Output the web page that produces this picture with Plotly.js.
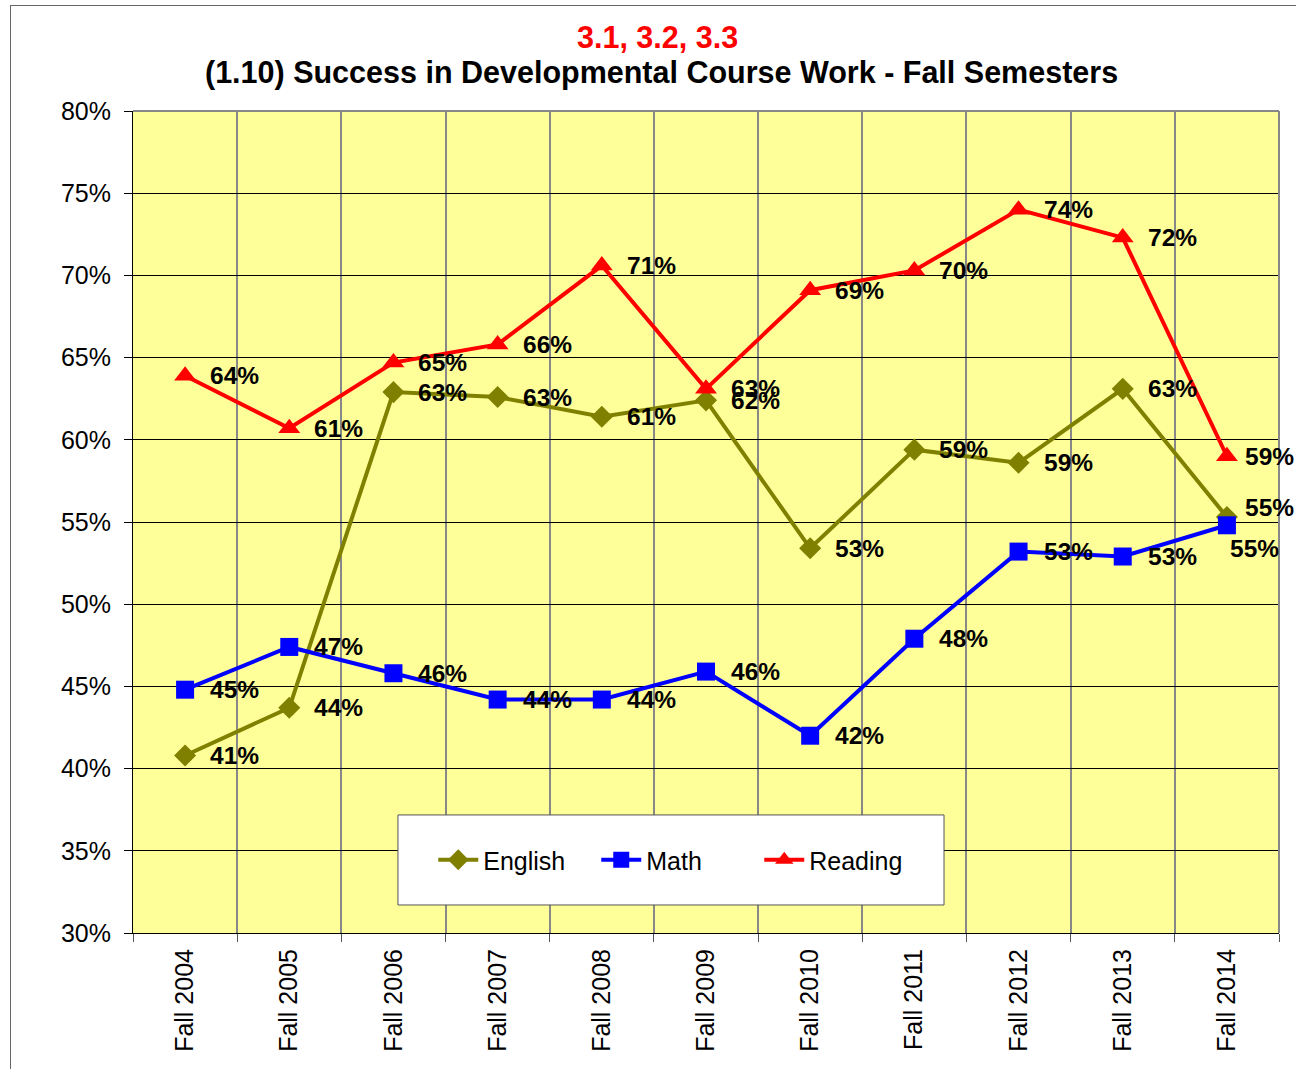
<!DOCTYPE html>
<html>
<head>
<meta charset="utf-8">
<script src="https://cdn.plot.ly/plotly-3.0.1.min.js"></script>
<style>
  html, body { margin: 0; padding: 0; background: #ffffff; }
  #frame { position: absolute; left: 10px; top: 5px; width: 1300px; height: 1080px;
           border-left: 1px solid #666; border-top: 1px solid #666; }
  #chart { position: absolute; left: 0; top: 0; width: 1296px; height: 1069px; }
</style>
</head>
<body>
<div id="frame"></div>
<div id="chart"></div>
<script>
const categories = ["Fall 2004","Fall 2005","Fall 2006","Fall 2007","Fall 2008","Fall 2009","Fall 2010","Fall 2011","Fall 2012","Fall 2013","Fall 2014"];
const english = [0.408, 0.437, 0.629, 0.626, 0.614, 0.624, 0.534, 0.594, 0.586, 0.631, 0.553];
const math    = [0.448, 0.474, 0.458, 0.442, 0.442, 0.459, 0.420, 0.479, 0.532, 0.529, 0.548];
const reading = [0.639, 0.607, 0.647, 0.658, 0.706, 0.631, 0.691, 0.703, 0.740, 0.723, 0.590];
const yTicks = [0.30,0.35,0.40,0.45,0.50,0.55,0.60,0.65,0.70,0.75,0.80];
const titleLine1 = "3.1, 3.2, 3.3";
const titleLine2 = "(1.10) Success in Developmental Course Work - Fall Semesters";

const FONT = "Liberation Sans, Arial, sans-serif";

const series = [
  {name: "English", values: english, color: "#808000", symbol: "diamond", size: 17},
  {name: "Math", values: math, color: "#0000FF", symbol: "square", size: 18},
  {name: "Reading", values: reading, color: "#FF0000", symbol: "triangle-up", size: 19}
];

const traces = series.map(s => ({
  type: "scatter", mode: "lines+markers", name: s.name,
  x: categories, y: s.values,
  line: {color: s.color, width: 4},
  marker: {color: s.color, symbol: s.symbol, size: s.size},
  cliponaxis: false
}));

// label placement tweaks (series name -> index -> [xshift, yshift])
const nudge = {
  "English": {10: [16, 10]},
  "Math": {10: [1, -23]},
  "Reading": {10: [16, 0]}
};

const annotations = [];
series.forEach(s => {
  s.values.forEach((v, i) => {
    const n = (nudge[s.name] && nudge[s.name][i]) || [23, 0];
    annotations.push({
      x: categories[i], y: v, xref: "x", yref: "y",
      text: Math.round(v * 100) + "%",
      showarrow: false, xanchor: "left", yanchor: "middle",
      xshift: n[0], yshift: n[1],
      font: {family: FONT, size: 24.5, color: "#000", weight: "bold"}
    });
  });
});
annotations.push({
  xref: "paper", yref: "paper", x: 0.458, y: 1.090, xanchor: "center", yanchor: "middle",
  showarrow: false, text: titleLine1,
  font: {family: FONT, size: 30.5, color: "#FF0000", weight: "bold"}
});
annotations.push({
  xref: "paper", yref: "paper", x: 0.4616, y: 1.0474, xanchor: "center", yanchor: "middle",
  showarrow: false, text: titleLine2,
  font: {family: FONT, size: 30.5, color: "#000", weight: "bold"}
});

const layout = {
  width: 1296, height: 1069,
  paper_bgcolor: "rgba(0,0,0,0)",
  plot_bgcolor: "#FFFF99",
  margin: {l: 133, r: 17, t: 111, b: 136},
  font: {family: FONT, color: "#000"},
  xaxis: {
    type: "category", tickson: "boundaries", range: [-0.5, 10.5], autorange: false,
    showgrid: true, gridcolor: "#888888", gridwidth: 2,
    ticks: "outside", ticklen: 8, tickcolor: "#555",
    tickangle: -90, tickfont: {size: 25}, ticklabelstandoff: 5,
    showline: true, linecolor: "#000", linewidth: 1,
    zeroline: false, fixedrange: true
  },
  yaxis: {
    range: [0.30, 0.80], autorange: false, tickvals: yTicks, tickformat: ".0%",
    showgrid: true, gridcolor: "#000", gridwidth: 1,
    ticks: "outside", ticklen: 8, tickcolor: "#000",
    tickfont: {size: 25}, ticklabelstandoff: 8,
    showline: true, linecolor: "#000", linewidth: 1,
    zeroline: false, fixedrange: true
  },
  showlegend: true,
  legend: {
    orientation: "h", x: 0.262, xanchor: "left", y: 0.0888, yanchor: "middle",
    bgcolor: "rgba(0,0,0,0)", borderwidth: 0,
    font: {size: 25, color: "#000"}, itemwidth: 40,
    entrywidth: 108, entrywidthmode: "pixels"
  },
  shapes: [
    {type: "rect", xref: "paper", yref: "paper", x0: 0.2312, x1: 0.7077, y0: 0.0341, y1: 0.1436,
     fillcolor: "#ffffff", line: {color: "#555", width: 1}, layer: "above"},
    {type: "line", xref: "paper", yref: "paper", x0: 0, x1: 1, y0: 1, y1: 1,
     line: {color: "#888888", width: 2}},
    {type: "line", xref: "paper", yref: "paper", x0: 1, x1: 1, y0: 0, y1: 1,
     line: {color: "#888888", width: 2}}
  ],
  annotations: annotations
};

Plotly.newPlot("chart", traces, layout, {displayModeBar: false, staticPlot: true});
</script>
</body>
</html>
